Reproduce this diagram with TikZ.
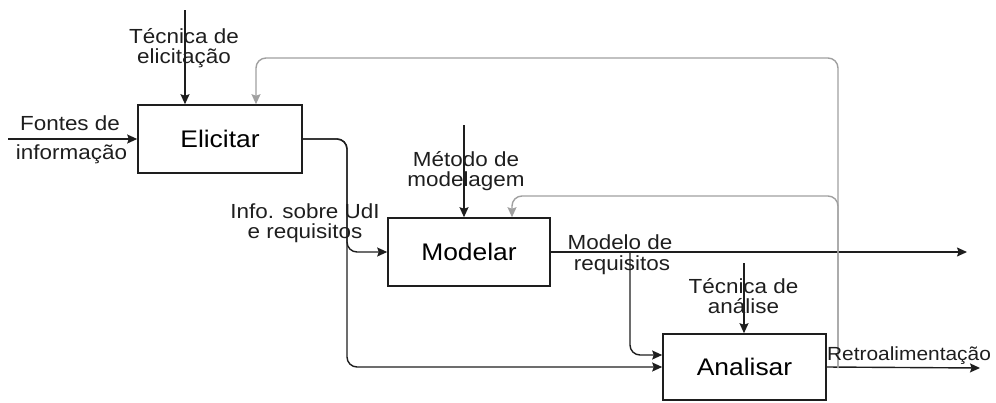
\documentclass[tikz,border=0pt]{standalone}
\usepackage{fontspec}
\setmainfont{Liberation Sans}[FakeStretch=1.1]
\usepackage{tikz}
\usetikzlibrary{arrows.meta,positioning,calc}
\definecolor{ink}{HTML}{1E1E1E}
\definecolor{fbgray}{HTML}{A0A0A0}
\tikzset{
    proc_box/.style={draw=ink, fill=white, line width=0.8pt, minimum width=82pt, minimum height=34pt, inner sep=0pt, font=\fontsize{12}{14}\selectfont},
    lbl_style/.style={font=\fontsize{10.2}{10}\selectfont, align=center, inner sep=0pt, text=ink},
    flow_arrow/.style={-{Stealth[length=5pt,width=4.5pt,inset=0.8pt]}, line width=0.7pt, draw=ink, rounded corners=5pt},
    fb_arrow/.style={-{Stealth[length=5pt,width=4.5pt,inset=0.8pt]}, line width=0.7pt, draw=fbgray, rounded corners=5pt}
}

\begin{document}
\begin{tikzpicture}[x=0.5pt, y=-0.5pt]

  \useasboundingbox (0,0) rectangle (996,402);

  % Activities
  \node[proc_box] (elicitar) at (220,139) {Elicitar};
  \node[proc_box, minimum width=81pt] (modelar) at (469,252) {Modelar};
  \node[proc_box, minimum width=81.5pt, minimum height=33pt] (analisar) at (744.5,367) {Analisar};

  % Free ends and splits
  \coordinate (src_in) at (8,139);
  \coordinate (tec_top) at (185,10);
  \coordinate (met_top) at (464,125);
  \coordinate (ana_top) at (744,263);
  \coordinate (out_mod) at (967,252);
  \coordinate (out_fb) at (980,368);
  \coordinate (split_e) at (347,139);
  \coordinate (split_m) at (630,252);
  \coordinate (fb_split) at (838,368);
  \coordinate (fb_top) at (838,58);
  \coordinate (fb_mid) at (838,196);

  % Inputs and controls
  \draw[flow_arrow] (src_in) -- (elicitar.west);
  \draw[flow_arrow] (tec_top) -- (tec_top |- elicitar.north);
  \draw[flow_arrow] (met_top) -- (met_top |- modelar.north);
  \draw[flow_arrow] (ana_top) -- (ana_top |- analisar.north);

  % Flows between activities
  \draw[flow_arrow] (elicitar.east) -| (split_e |- modelar.west) -- (modelar.west);
  \draw[flow_arrow] (elicitar.east) -| (split_e |- analisar.west) -- (analisar.west);
  \draw[flow_arrow] (modelar.east) -- (out_mod);
  \draw[flow_arrow] (split_m) |- ([yshift=6pt]analisar.west);
  \draw[flow_arrow] (analisar.east) -- (out_fb);

  % Feedback
  \draw[fb_arrow] (fb_split) -- (fb_top) -| ([xshift=18pt]elicitar.north);
  \draw[fb_arrow] (fb_split) -- (fb_mid) -| ([xshift=21.5pt]modelar.north);

  % Labels
  \node[lbl_style] (lbl_tec) at (184,48) {Técnica de\\elicitação};
  \node[lbl_style, anchor=base] (lbl_src_a) at (70,130) {Fontes de};
  \node[lbl_style, anchor=base] (lbl_src_b) at (71.5,159) {informação};
  \node[lbl_style] (lbl_met) at (466,171) {Método de\\modelagem};
  \node[lbl_style] (lbl_info) at (305,223) {Info. sobre UdI\\e requisitos};
  \node[lbl_style, anchor=base] (lbl_mod_a) at (620,249) {Modelo de};
  \node[lbl_style, anchor=base] (lbl_mod_b) at (622,270) {requisitos};
  \node[lbl_style] (lbl_ana) at (743.5,296) {Técnica de\\análise};
  \node[lbl_style, anchor=base, font=\fontsize{9.5}{10}\selectfont] (lbl_fb) at (909,360) {Retroalimentação};

\end{tikzpicture}
\end{document}
